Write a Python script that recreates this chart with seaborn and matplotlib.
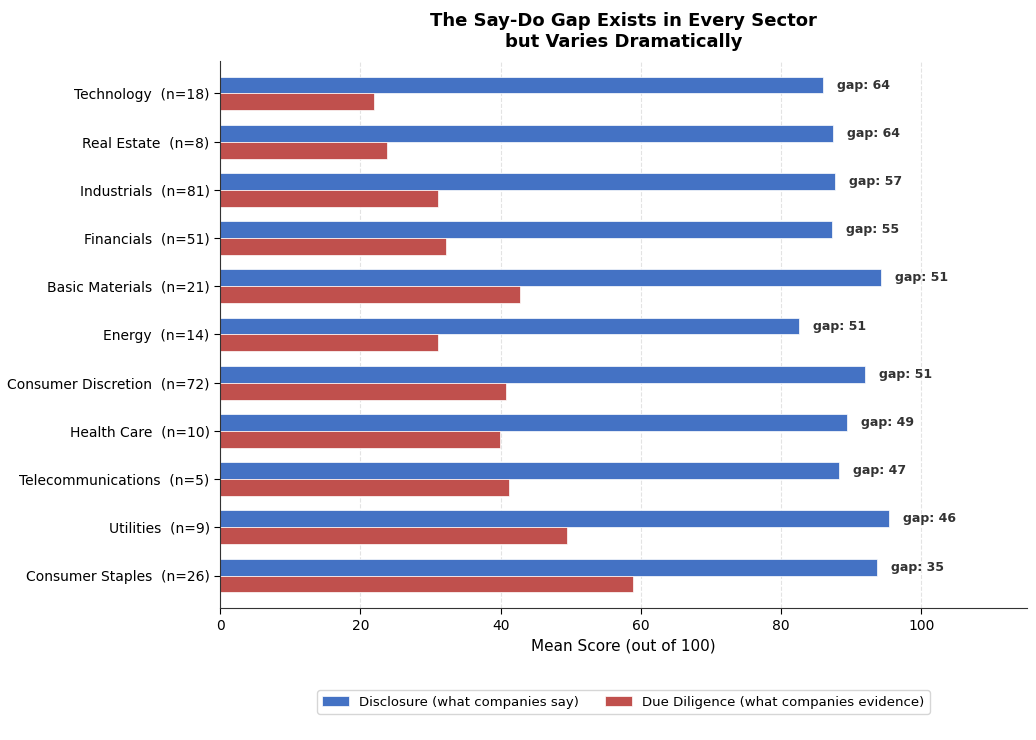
import numpy as np
import pandas as pd
import seaborn as sns
import matplotlib.pyplot as plt

# Sector means
sectors = ["Technology  (n=18)", "Real Estate  (n=8)", "Industrials  (n=81)",
           "Financials  (n=51)", "Basic Materials  (n=21)", "Energy  (n=14)",
           "Consumer Discretion  (n=72)", "Health Care  (n=10)",
           "Telecommunications  (n=5)", "Utilities  (n=9)", "Consumer Staples  (n=26)"]
disclosure = [86.0, 87.4, 87.6, 87.3, 94.2, 82.5, 91.9, 89.4, 88.3, 95.4, 93.7]
due_diligence = [22.0, 23.8, 31.1, 32.2, 42.7, 31.1, 40.7, 39.9, 41.2, 49.5, 58.8]
gaps = [64, 64, 57, 55, 51, 51, 51, 49, 47, 46, 35]

lab_disc = "Disclosure (what companies say)"
lab_dd = "Due Diligence (what companies evidence)"

df = pd.DataFrame({"sector": sectors * 2,
                   "score": disclosure + due_diligence,
                   "metric": [lab_disc] * len(sectors) + [lab_dd] * len(sectors)})

sns.set_style("white")
plt.rcParams['font.family'] = ['DejaVu Sans']
plt.rcParams['text.color'] = 'black'
plt.rcParams['xtick.color'] = 'black'
plt.rcParams['ytick.color'] = 'black'
plt.rcParams['axes.labelcolor'] = 'black'

fig, ax = plt.subplots(figsize=(10.36, 7.4), dpi=100)
fig.subplots_adjust(left=0.2125, right=0.991, top=0.918, bottom=0.178)

sns.barplot(data=df, y="sector", x="score", hue="metric", orient="h",
            order=sectors, hue_order=[lab_disc, lab_dd],
            palette={lab_disc: "#4472C4", lab_dd: "#C0504D"}, saturation=1,
            width=0.7, edgecolor="white", linewidth=0.5, ax=ax)

# gap annotations next to the disclosure bars
for i, (d, g) in enumerate(zip(disclosure, gaps)):
    ax.text(d + 2, i - 0.175, f"gap: {g}", va="center", ha="left",
            fontsize=9, fontweight="bold", color="#333333")

ax.set_xlim(0, 115)
ax.set_ylim(10.68, -0.68)
ax.set_xticks([0, 20, 40, 60, 80, 100])
ax.xaxis.grid(True, linestyle="--", color="#e3e3e3", linewidth=0.8)
ax.set_axisbelow(True)
ax.set_ylabel("")
ax.set_xlabel("Mean Score (out of 100)", fontsize=11)
ax.tick_params(axis="both", labelsize=10, left=True, bottom=True, length=4)
ax.set_title("The Say-Do Gap Exists in Every Sector\nbut Varies Dramatically",
             fontsize=13, fontweight="bold", pad=10)
sns.despine(ax=ax)
for s in ["left", "bottom"]:
    ax.spines[s].set_color("#333333")

ax.legend(loc="upper center", bbox_to_anchor=(0.5, -0.138), ncol=2,
          fontsize=9.5, frameon=True)

fig.savefig("out.png", dpi=100)
